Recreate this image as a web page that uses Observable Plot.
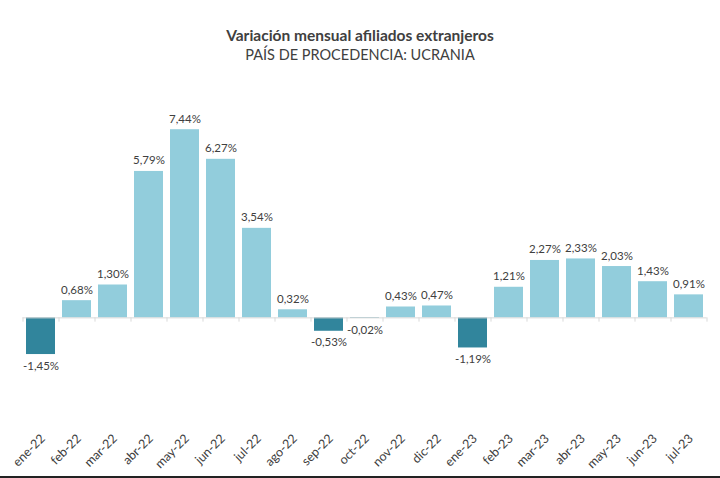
<!DOCTYPE html>
<html>
<head>
<meta charset="utf-8">
<script src="https://cdn.jsdelivr.net/npm/d3@7"></script>
<script src="https://cdn.jsdelivr.net/npm/@observablehq/plot@0.6"></script>
<style>
  html, body { margin: 0; padding: 0; background: #fff; }
  #wrap { width: 720px; height: 476px; border-bottom: 2px solid #222; position: relative; font-family: Lato, "Open Sans", sans-serif; }
  #head { height: 70px; text-align: center; color: #404040; }
  #title { padding-top: 25px; font-size: 15.5px; font-weight: bold; line-height: 20px; }
  #subtitle { font-size: 14.5px; line-height: 20px; }
</style>
</head>
<body>
<div id="wrap">
  <div id="head">
    <div id="title">Variación mensual afiliados extranjeros</div>
    <div id="subtitle">PAÍS DE PROCEDENCIA: UCRANIA</div>
  </div>
  <div id="chart"></div>
</div>
<script>
const months = ["ene-22","feb-22","mar-22","abr-22","may-22","jun-22","jul-22","ago-22","sep-22","oct-22","nov-22","dic-22","ene-23","feb-23","mar-23","abr-23","may-23","jun-23","jul-23"];
const values = [-1.45, 0.68, 1.30, 5.79, 7.44, 6.27, 3.54, 0.32, -0.53, -0.02, 0.43, 0.47, -1.19, 1.21, 2.27, 2.33, 2.03, 1.43, 0.91];

const data = months.map((m, i) => ({month: m, value: values[i]}));
const fmt = v => d3.format(".2f")(v).replace(".", ",").replace("\u2212", "-") + "%";

const W = 720, H = 406, mL = 22.5, mR = 13.5;
const step = (W - mL - mR) / months.length;

const chart = Plot.plot({
  width: W,
  height: H,
  marginLeft: mL,
  marginRight: mR,
  marginTop: 40,
  marginBottom: 60,
  style: {fontFamily: "Lato, 'Open Sans', sans-serif", background: "#fff"},
  x: {domain: months, paddingInner: 0.19, paddingOuter: 0.095, label: null},
  y: {domain: [-3.9, 8.2], axis: null},
  marks: [
    Plot.barY(data, {x: "month", y: "value", fill: d => d.value < 0 ? "#31859c" : "#92cddc"}),
    Plot.ruleY([0], {stroke: "#d9d9d9", strokeWidth: 1}),
    Plot.ruleX(months, {x: d => d, dx: -step / 2, y1: 0, y2: -0.17, stroke: "#d9d9d9"}),
    Plot.ruleX([months[months.length - 1]], {x: d => d, dx: step / 2, y1: 0, y2: -0.17, stroke: "#d9d9d9"}),
    Plot.text(data.filter(d => d.value >= 0), {x: "month", y: "value", text: d => fmt(d.value), lineAnchor: "bottom", dy: -7, fontSize: 11.5, fill: "#404040"}),
    Plot.text(data.filter(d => d.value < 0), {x: "month", y: "value", text: d => fmt(d.value), lineAnchor: "top", dy: 7, fontSize: 11.5, fill: "#404040"}),
    Plot.axisX({tickSize: 0, tickRotate: -45, tickPadding: 20, dx: 2, fontSize: 12.5, color: "#404040", label: null})
  ]
});
document.getElementById("chart").appendChild(chart);
</script>
</body>
</html>
